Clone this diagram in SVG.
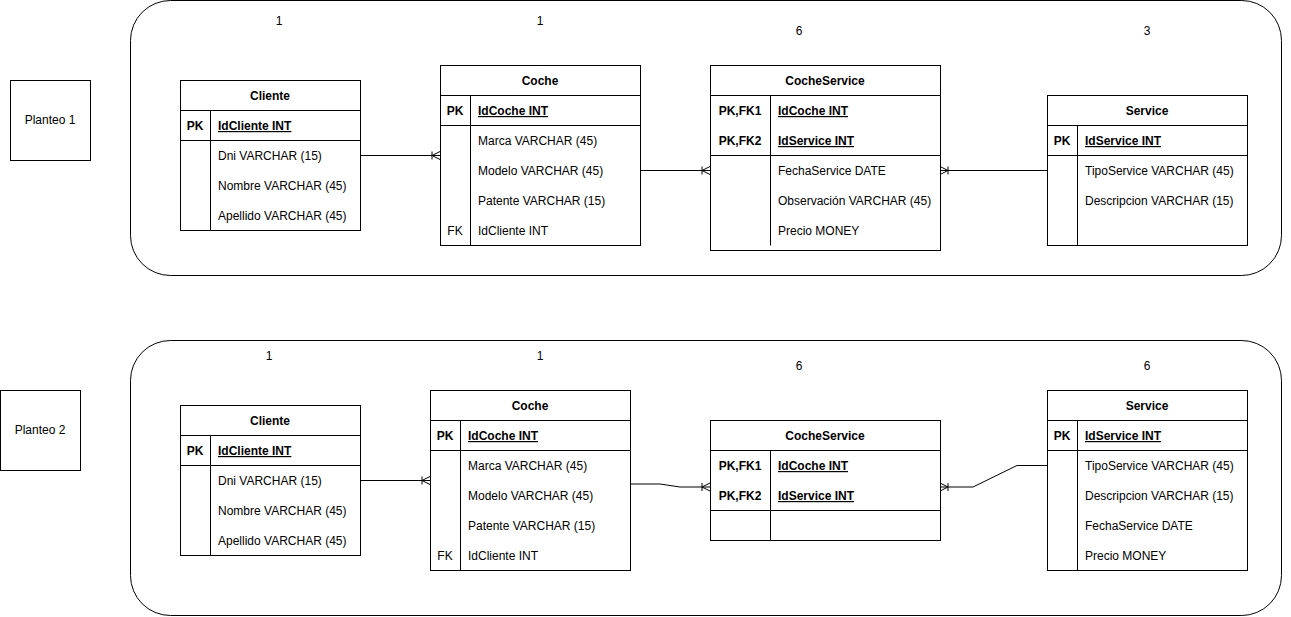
<svg xmlns="http://www.w3.org/2000/svg" width="1291" height="617" viewBox="0 0 1291 617">
<style>
text{font-family:"Liberation Sans",Arial,Helvetica,sans-serif;font-size:12px;fill:#000}
.b{font-weight:bold}
.u{font-weight:bold;text-decoration:underline}
.c{text-anchor:middle}
.box{fill:#fff;stroke:#000;stroke-width:1}
.ln{stroke:#000;stroke-width:1;fill:none}
.con{stroke:#000;stroke-width:1;fill:none;marker-end:url(#crow)}
</style>
<defs>
<marker id="crow" markerUnits="userSpaceOnUse" viewBox="0 0 10 10" markerWidth="10" markerHeight="10" refX="10" refY="5" orient="auto" overflow="visible">
<path d="M10,1 L2,5 L10,9 M2,1 L2,9" fill="none" stroke="#000" stroke-width="1"/>
</marker>
</defs>
<rect width="1291" height="617" fill="#fff"/>

<g id="frame1"><rect x="130.5" y="0.5" width="1151" height="275" rx="40" ry="40" class="box"/></g>
<g id="frame2"><rect x="130.5" y="340.5" width="1151" height="275" rx="40" ry="40" class="box"/></g>

<g id="planteo1"><rect x="10.5" y="80.5" width="80" height="80" class="box"/><text x="50" y="124" class="c">Planteo 1</text></g>
<g id="planteo2"><rect x="0.5" y="390.5" width="80" height="80" class="box"/><text x="40" y="434" class="c">Planteo 2</text></g>

<g id="counts">
<text x="279" y="25" class="c">1</text>
<text x="540" y="25" class="c">1</text>
<text x="799" y="35" class="c">6</text>
<text x="1147" y="35" class="c">3</text>
<text x="269" y="360" class="c">1</text>
<text x="540" y="360" class="c">1</text>
<text x="799" y="370" class="c">6</text>
<text x="1147" y="370" class="c">6</text>
</g>

<g id="connectors">
<path d="M360,155.5 H440" class="con"/>
<path d="M640,170.5 H710" class="con"/>
<path d="M1047,170.5 H940" class="con"/>
<path d="M360,480.5 H430" class="con"/>
<path d="M630,484 L660,484 L680,487 L710,487" class="con"/>
<path d="M1047,465.5 L1017,465.5 L973,487 L940,487" class="con"/>
</g>

<g id="cliente1">
<rect x="180.5" y="80.5" width="180" height="150" class="box"/>
<path d="M180.5,110.5 H360.5 M180.5,140.5 H360.5 M210.5,110.5 V230.5" class="ln"/>
<text x="270" y="100" class="b c">Cliente</text>
<text x="195" y="130" class="b c">PK</text>
<text x="218" y="130" class="u">IdCliente INT</text>
<text x="218" y="160">Dni VARCHAR (15)</text>
<text x="218" y="190">Nombre VARCHAR (45)</text>
<text x="218" y="220">Apellido VARCHAR (45)</text>
</g>

<g id="coche1">
<rect x="440.5" y="65.5" width="200" height="180" class="box"/>
<path d="M440.5,95.5 H640.5 M440.5,125.5 H640.5 M470.5,95.5 V245.5" class="ln"/>
<text x="540" y="85" class="b c">Coche</text>
<text x="455" y="115" class="b c">PK</text>
<text x="478" y="115" class="u">IdCoche INT</text>
<text x="478" y="145">Marca VARCHAR (45)</text>
<text x="478" y="175">Modelo VARCHAR (45)</text>
<text x="478" y="205">Patente VARCHAR (15)</text>
<text x="455" y="235" class="c">FK</text>
<text x="478" y="235">IdCliente INT</text>
</g>

<g id="cocheservice1">
<rect x="710.5" y="65.5" width="230" height="185" class="box"/>
<path d="M710.5,95.5 H940.5 M710.5,155.5 H940.5 M770.5,95.5 V245.5" class="ln"/>
<text x="825" y="85" class="b c">CocheService</text>
<text x="740" y="115" class="b c">PK,FK1</text>
<text x="778" y="115" class="u">IdCoche INT</text>
<text x="740" y="145" class="b c">PK,FK2</text>
<text x="778" y="145" class="u">IdService INT</text>
<text x="778" y="175">FechaService DATE</text>
<text x="778" y="205">Observación VARCHAR (45)</text>
<text x="778" y="235">Precio MONEY</text>
</g>

<g id="service1">
<rect x="1047.5" y="95.5" width="200" height="150" class="box"/>
<path d="M1047.5,125.5 H1247.5 M1047.5,155.5 H1247.5 M1077.5,125.5 V245.5" class="ln"/>
<text x="1147" y="115" class="b c">Service</text>
<text x="1062" y="145" class="b c">PK</text>
<text x="1085" y="145" class="u">IdService INT</text>
<text x="1085" y="175">TipoService VARCHAR (45)</text>
<text x="1085" y="205">Descripcion VARCHAR (15)</text>
</g>

<g id="cliente2">
<rect x="180.5" y="405.5" width="180" height="150" class="box"/>
<path d="M180.5,435.5 H360.5 M180.5,465.5 H360.5 M210.5,435.5 V555.5" class="ln"/>
<text x="270" y="425" class="b c">Cliente</text>
<text x="195" y="455" class="b c">PK</text>
<text x="218" y="455" class="u">IdCliente INT</text>
<text x="218" y="485">Dni VARCHAR (15)</text>
<text x="218" y="515">Nombre VARCHAR (45)</text>
<text x="218" y="545">Apellido VARCHAR (45)</text>
</g>

<g id="coche2">
<rect x="430.5" y="390.5" width="200" height="180" class="box"/>
<path d="M430.5,420.5 H630.5 M430.5,450.5 H630.5 M460.5,420.5 V570.5" class="ln"/>
<text x="530" y="410" class="b c">Coche</text>
<text x="445" y="440" class="b c">PK</text>
<text x="468" y="440" class="u">IdCoche INT</text>
<text x="468" y="470">Marca VARCHAR (45)</text>
<text x="468" y="500">Modelo VARCHAR (45)</text>
<text x="468" y="530">Patente VARCHAR (15)</text>
<text x="445" y="560" class="c">FK</text>
<text x="468" y="560">IdCliente INT</text>
</g>

<g id="cocheservice2">
<rect x="710.5" y="420.5" width="230" height="120" class="box"/>
<path d="M710.5,450.5 H940.5 M710.5,510.5 H940.5 M770.5,450.5 V540.5" class="ln"/>
<text x="825" y="440" class="b c">CocheService</text>
<text x="740" y="470" class="b c">PK,FK1</text>
<text x="778" y="470" class="u">IdCoche INT</text>
<text x="740" y="500" class="b c">PK,FK2</text>
<text x="778" y="500" class="u">IdService INT</text>
</g>

<g id="service2">
<rect x="1047.5" y="390.5" width="200" height="180" class="box"/>
<path d="M1047.5,420.5 H1247.5 M1047.5,450.5 H1247.5 M1077.5,420.5 V570.5" class="ln"/>
<text x="1147" y="410" class="b c">Service</text>
<text x="1062" y="440" class="b c">PK</text>
<text x="1085" y="440" class="u">IdService INT</text>
<text x="1085" y="470">TipoService VARCHAR (45)</text>
<text x="1085" y="500">Descripcion VARCHAR (15)</text>
<text x="1085" y="530">FechaService DATE</text>
<text x="1085" y="560">Precio MONEY</text>
</g>
</svg>
